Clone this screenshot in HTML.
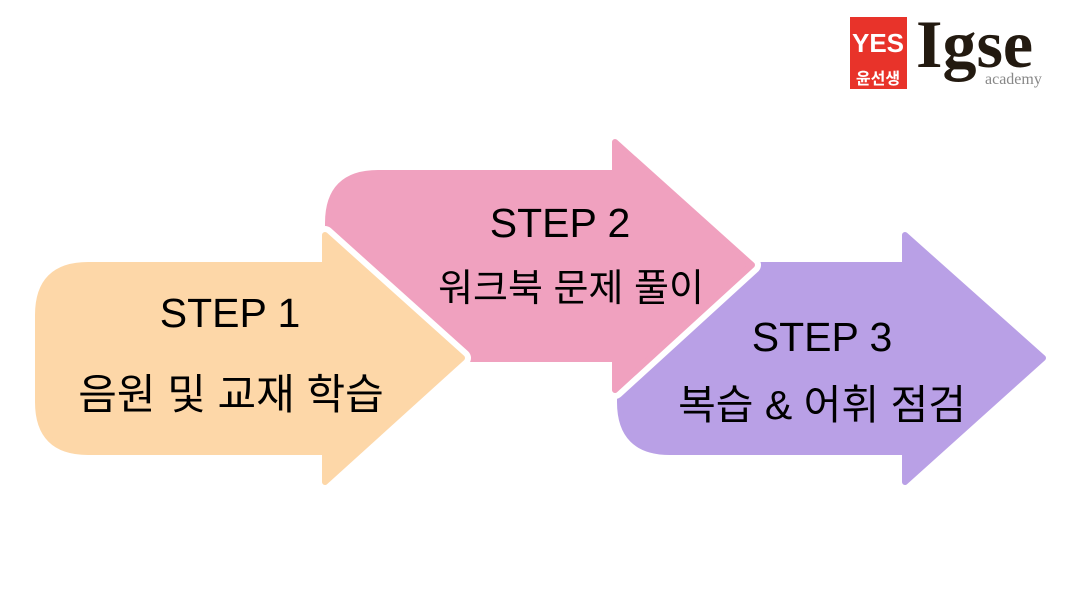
<!DOCTYPE html>
<html><head><meta charset="utf-8"><style>
body{margin:0;width:1080px;height:600px;background:#fff;overflow:hidden}
svg{display:block}
text{font-family:"Liberation Sans","Noto Sans CJK KR",sans-serif;fill:#000}
</style></head><body>
<svg width="1080" height="600" viewBox="0 0 1080 600">
<defs>
<path id="a1" d="M88,265 H325 V235 L462,358 L325,482 V452 H88 Q38,452 38,402 V315 Q38,265 88,265 Z"/>
<path id="a2" d="M378,173 H615 V142 L752,265 L615,390 V359 H328 V223 Q328,173 378,173 Z"/>
<path id="a3" d="M620,265 H905 V235 L1043,358 L905,482 V452 H670 Q620,452 620,402 Z"/>
</defs>
<use href="#a3" fill="#B9A0E6" stroke="#B9A0E6" stroke-width="6" stroke-linejoin="round"/>
<use href="#a2" fill="#fff" stroke="#fff" stroke-width="18" stroke-linejoin="round"/>
<use href="#a2" fill="#F0A1BF" stroke="#F0A1BF" stroke-width="6" stroke-linejoin="round"/>
<use href="#a1" fill="#fff" stroke="#fff" stroke-width="18" stroke-linejoin="round"/>
<use href="#a1" fill="#FDD7A8" stroke="#FDD7A8" stroke-width="6" stroke-linejoin="round"/>
<text x="230" y="327" font-size="41" text-anchor="middle">STEP 1</text>
<text x="231" y="409" font-size="42" text-anchor="middle">음원 및 교재 학습</text>
<text x="560" y="237" font-size="41" text-anchor="middle">STEP 2</text>
<text x="571" y="301" font-size="38" text-anchor="middle">워크북 문제 풀이</text>
<text x="822" y="351" font-size="41" text-anchor="middle">STEP 3</text>
<text x="822" y="419" font-size="41" text-anchor="middle">복습 &amp; 어휘 점검</text>
<rect x="850" y="17" width="57" height="72" fill="#E8332A"/>
<text x="878" y="52" font-size="26" font-weight="bold" text-anchor="middle" style="fill:#fff">YES</text>
<text x="878" y="84" font-size="16" font-weight="bold" text-anchor="middle" style="fill:#fff">윤선생</text>
<text x="916" y="67" font-size="68" font-weight="bold" style="font-family:'Liberation Serif',serif;fill:#231a10">Igse</text>
<text x="985" y="84" font-size="16" style="font-family:'Liberation Serif',serif;fill:#888">academy</text>
</svg>
</body></html>
